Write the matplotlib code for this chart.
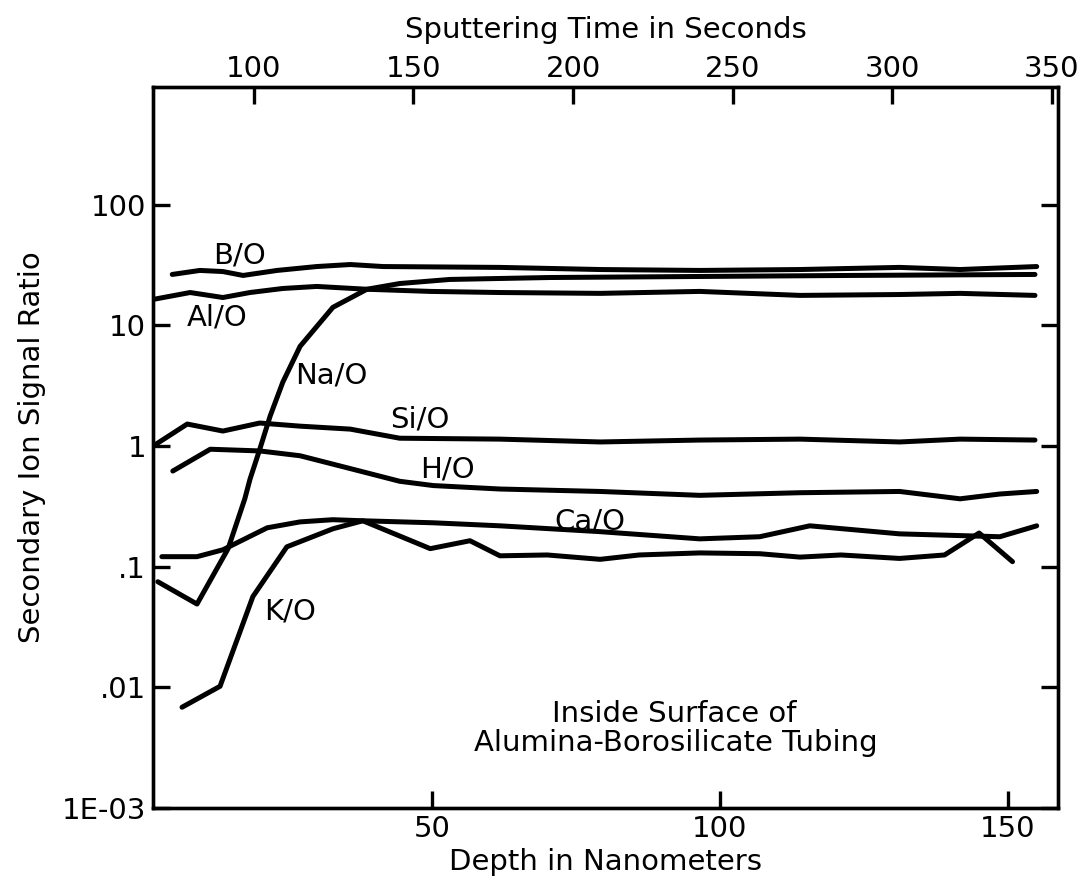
import numpy as np
import matplotlib
matplotlib.use("Agg")
import matplotlib.pyplot as plt

# ---- data (depth in nm, signal ratio) ----
bo_d = [4.9, 9.7, 13.7, 17.2, 23.1, 30.0, 35.8, 41.5, 61.8, 79.2, 96.5, 113.9, 131.2, 141.7, 155.0]
bo_v = [26.4, 28.5, 27.9, 25.9, 28.5, 30.7, 31.9, 30.7, 30.2, 29.0, 28.5, 29.0, 30.2, 29.0, 30.7]

al_d = [1.6, 8.0, 13.7, 18.4, 24.1, 30.0, 38.7, 49.7, 61.8, 79.2, 96.5, 113.9, 131.2, 141.7, 154.7]
al_v = [16.4, 18.7, 17.0, 18.7, 20.2, 21.0, 19.9, 19.1, 18.7, 18.4, 19.1, 17.7, 18.0, 18.4, 17.7]

na_d = [2.4, 9.2, 14.6, 17.5, 18.4, 20.1, 21.9, 24.1, 27.1, 32.8, 38.7, 44.4, 53.1, 70.5, 96.5, 122.6, 154.7]
na_v = [0.075, 0.049, 0.141, 0.365, 0.53, 0.94, 1.77, 3.38, 6.7, 14.1, 19.9, 22.2, 24.0, 24.9, 25.4, 25.9, 26.4]

si_d = [1.6, 7.5, 13.7, 20.1, 27.1, 35.8, 44.4, 61.8, 79.2, 96.5, 113.9, 131.2, 141.7, 154.7]
si_v = [1.0, 1.52, 1.33, 1.55, 1.46, 1.38, 1.16, 1.14, 1.08, 1.12, 1.14, 1.08, 1.14, 1.12]

h_d = [5.0, 11.5, 20.1, 27.1, 35.8, 44.4, 50.2, 61.8, 79.2, 96.5, 113.9, 131.2, 141.7, 148.6, 155.0]
h_v = [0.62, 0.94, 0.91, 0.83, 0.65, 0.51, 0.47, 0.44, 0.42, 0.39, 0.41, 0.42, 0.365, 0.40, 0.42]

ca_d = [3.1, 9.2, 13.7, 21.4, 27.1, 32.8, 38.0, 50.2, 61.8, 79.2, 96.5, 106.9, 115.6, 131.2, 148.6, 155.0]
ca_v = [0.121, 0.121, 0.138, 0.21, 0.235, 0.245, 0.24, 0.231, 0.218, 0.195, 0.17, 0.177, 0.218, 0.187, 0.177, 0.218]

k_d = [6.6, 13.2, 18.9, 24.8, 32.8, 38.0, 49.7, 56.6, 61.8, 70.0, 79.2, 86.0, 96.5, 106.9, 113.9, 121.0, 131.2, 139.0, 145.0, 150.8]
k_v = [0.00684, 0.0102, 0.0565, 0.146, 0.206, 0.24, 0.141, 0.164, 0.123, 0.125, 0.115, 0.125, 0.13, 0.128, 0.12, 0.125, 0.117, 0.125, 0.19, 0.11]

series = [(bo_d, bo_v), (al_d, al_v), (na_d, na_v), (si_d, si_v), (h_d, h_v), (ca_d, ca_v), (k_d, k_v)]

depth_ticks = [50, 100, 150]
time_ticks = [100, 150, 200, 250, 300, 350]
y_ticks = [1e-3, 1e-2, 1e-1, 1, 10, 100]
y_ticklabels = ["1E-03", ".01", ".1", "1", "10", "100"]

plt.rcParams['font.family'] = ['DejaVu Sans']
FS = 21

fig = plt.figure(figsize=(10.84, 8.84), dpi=100)
ax = fig.add_axes([153/1084, 1 - 808/884, (1058-153)/1084, (808-87)/884])

for d, v in series:
    ax.plot(d, v, color='black', lw=3.6, solid_joinstyle='round', solid_capstyle='round')

ax.set_yscale('log')
ax.set_xlim(1.56, 158.7)
ax.set_ylim(1e-3, 10**2.975)
ax.set_xticks(depth_ticks)
ax.set_xticklabels([str(t) for t in depth_ticks], fontsize=FS)
ax.set_yticks(y_ticks)
ax.set_yticklabels(y_ticklabels, fontsize=FS)
ax.yaxis.set_minor_locator(matplotlib.ticker.NullLocator())
ax.tick_params(axis='both', direction='in', length=12, width=2.4, pad=5)
ax.tick_params(axis='y', right=True, labelright=False)
for s in ax.spines.values():
    s.set_linewidth(2.4)
ax.set_xlabel("Depth in Nanometers", fontsize=FS, labelpad=4)
ax.set_ylabel("Secondary Ion Signal Ratio", fontsize=FS, labelpad=11)

# top time axis: sputtering time at the left and right edges of the plot
ax2 = ax.twiny()
ax2.set_xlim(68.4, 351.9)
ax2.set_xticks(time_ticks)
ax2.set_xticklabels([str(t) for t in time_ticks], fontsize=FS)
ax2.tick_params(axis='x', direction='in', length=12, width=2.4, pad=3)
ax2.set_xlabel("Sputtering Time in Seconds", fontsize=FS, labelpad=12)
for s in ax2.spines.values():
    s.set_linewidth(2.4)

def px(x, y):
    return ((x - 153) / (1058 - 153), (808 - y) / (808 - 87))

labels = [("B/O", 240, 256), ("Al/O", 217, 318), ("Na/O", 331, 375), ("Si/O", 420, 420),
          ("H/O", 447, 470), ("Ca/O", 590, 522), ("K/O", 290, 612)]
for t, x, y in labels:
    ax.text(*px(x, y), t, transform=ax.transAxes, fontsize=FS, ha='center', va='center')

ax.text(*px(674, 714), "Inside Surface of", transform=ax.transAxes, fontsize=FS, ha='center', va='center')
ax.text(*px(676, 743), "Alumina-Borosilicate Tubing", transform=ax.transAxes, fontsize=FS, ha='center', va='center')

fig.savefig("out.png", dpi=100)
